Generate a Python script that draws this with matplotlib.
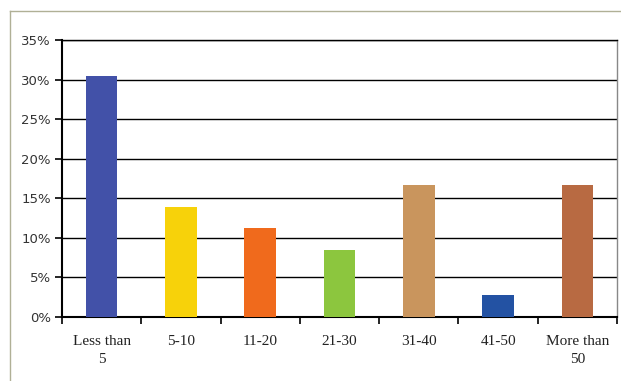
#!/usr/bin/env python3
"""Recreate the bar chart of percentage by range category."""

import matplotlib
matplotlib.use("Agg")
import matplotlib.pyplot as plt
from matplotlib.lines import Line2D
from matplotlib.ticker import MultipleLocator, FuncFormatter, FixedLocator

categories = ["Less than\n5", "5-10", "11-20", "21-30", "31-40", "41-50", "More than\n50"]
values = [30.5, 13.9, 11.2, 8.5, 16.7, 2.8, 16.7]
colors = ["#4251a8", "#f7d20a", "#f06a1c", "#8cc63e", "#c9955d", "#2352a3", "#b86a42"]


def main() -> None:
    fig = plt.figure(figsize=(6.21, 3.81), dpi=100)
    ax = fig.add_axes([0.0998, 0.168, 0.8938, 0.727])

    # outer chart frame (top and left visible)
    fx, fy = 10 / 621, 1 - 11 / 381
    fig.add_artist(Line2D([fx, fx], [0, fy], color="#b0b096", lw=1.0, transform=fig.transFigure))
    fig.add_artist(Line2D([fx, 1.0], [fy, fy], color="#b0b096", lw=1.0, transform=fig.transFigure))

    x = range(len(categories))
    ax.bar(x, values, width=0.4, color=colors, zorder=3)

    ax.set_xlim(-0.5, len(categories) - 0.5)
    ax.set_ylim(0, 35)
    ax.yaxis.set_major_locator(MultipleLocator(5))
    ax.yaxis.set_major_formatter(FuncFormatter(lambda v, _: f"{v:.0f}%"))
    ax.grid(True, axis="y", color="black", lw=1.0, zorder=1)

    ax.set_xticks(list(x))
    ax.set_xticklabels(categories, family="Liberation Serif", fontsize=11, color="#222222",
                       linespacing=1.45)
    ax.tick_params(axis="x", length=0, pad=13)
    ax.xaxis.set_minor_locator(FixedLocator([i - 0.5 for i in range(len(categories) + 1)]))
    ax.tick_params(axis="x", which="minor", length=5, width=1.2, direction="out", color="black")
    ax.tick_params(axis="y", length=5, width=1.2, direction="out", labelsize=9.5, labelcolor="#333333", pad=3)

    for s in ("left", "bottom"):
        ax.spines[s].set_color("black")
        ax.spines[s].set_linewidth(1.5)
    ax.spines["right"].set_color("#888888")
    ax.spines["right"].set_linewidth(1.0)
    ax.spines["top"].set_color("black")
    ax.spines["top"].set_linewidth(1.0)

    fig.savefig("out.png", dpi=100)


if __name__ == "__main__":
    main()
